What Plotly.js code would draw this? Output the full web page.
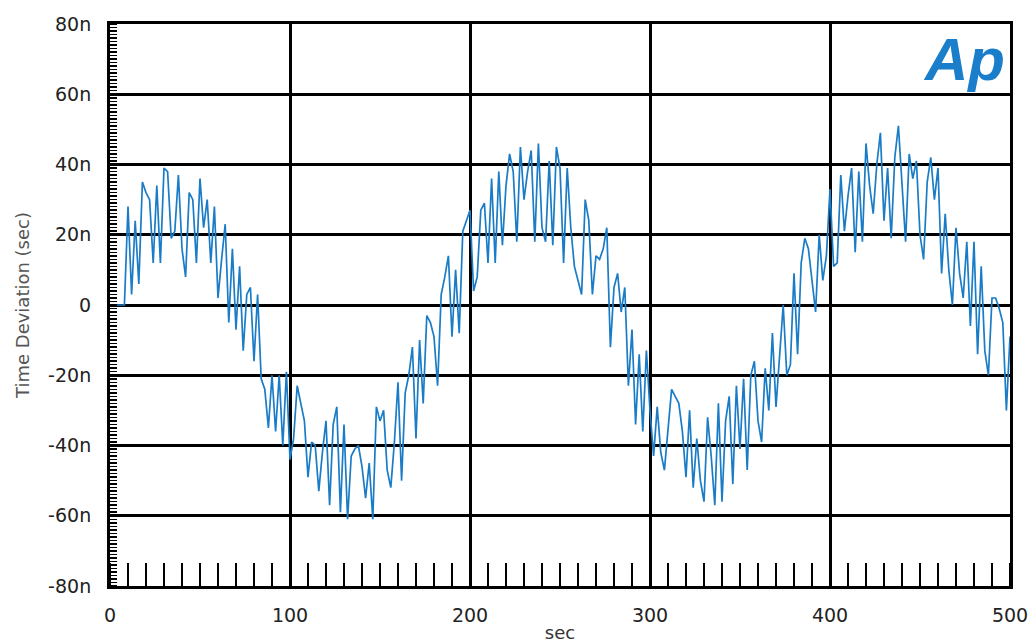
<!DOCTYPE html>
<html><head><meta charset="utf-8">
<script src="https://cdn.plot.ly/plotly-3.0.1.min.js"></script>
<style>html,body{margin:0;padding:0;background:#fff}#chart{width:1035px;height:643px}</style>
</head><body><div id="chart"></div>
<script>
// time step (sec) between samples
const timeStep = 2;
// Time deviation in nanoseconds, one value every 2 s from t = 0 to 500 s
const dev0 = [0,0,0,0,0,28,3,24,6,35,32,30,12,34,12,39,38,19,21,37,16,8,32,30,12,36,22,30,12,28,2,13,23,-5,16,-7,11,-13,3,5,-16,3,-21,-24,-35,-20,-36,-20,-40,-19];
const dev1 = [-44,-38,-23,-28,-33,-49,-39,-40,-53,-42,-33,-57,-34,-29,-59,-34,-61,-43,-41,-40,-46,-55,-45,-61,-29,-33,-30,-47,-52,-39,-22,-50,-25,-20,-12,-38,-10,-28,-3,-5,-9,-23,3,8,14,-9,10,-8,21,24];
const dev2 = [27,4,8,27,29,12,36,12,38,17,34,43,38,18,45,30,38,44,18,46,22,18,41,17,45,39,12,39,22,11,7,3,30,24,3,14,13,16,22,-12,5,9,-2,5,-23,-7,-34,-14,-36,-13];
const dev3 = [-30,-43,-29,-42,-47,-35,-24,-26,-28,-36,-49,-30,-52,-38,-50,-56,-32,-43,-57,-28,-56,-33,-26,-51,-23,-41,-21,-47,-20,-16,-33,-39,-18,-30,-8,-29,-14,0,-20,-17,9,-14,12,19,16,6,-2,20,7,14];
const dev4 = [33,11,12,37,21,31,39,15,38,18,46,34,26,40,49,24,39,19,42,51,33,18,43,36,41,20,13,35,42,30,39,9,26,10,0,22,9,2,18,-6,18,-14,11,-13,-20,2,2,-1,-5,-30,-9];
const yTickVals = [-80,-60,-40,-20,0,20,40,60,80];
const yTickText = ['-80n','-60n','-40n','-20n','0','20n','40n','60n','80n'];
const xTickVals = [0,100,200,300,400,500];
const xTickText = ['0','100','200','300','400','500'];

const dev = dev0.concat(dev1, dev2, dev3, dev4);
const t = dev.map((_, i) => i * timeStep);

const font = {family: 'DejaVu Sans, Verdana, sans-serif', size: 19, color: '#222'};

Plotly.newPlot('chart', [{
  x: t, y: dev, type: 'scatter', mode: 'lines',
  line: {color: '#1a7cc6', width: 1.7}, hoverinfo: 'skip'
}], {
  width: 1035, height: 643,
  margin: {l: 110, r: 25, t: 24, b: 57},
  paper_bgcolor: '#fff', plot_bgcolor: '#fff',
  showlegend: false,
  font: font,
  xaxis: {
    range: [0, 500], tickmode: 'array', tickvals: xTickVals, ticktext: xTickText,
    showgrid: true, gridcolor: '#000', gridwidth: 3,
    showline: true, linecolor: '#000', linewidth: 3, mirror: true,
    ticks: '', ticklabelstandoff: 10, zeroline: false,
    tickfont: font,
    minor: {ticks: 'inside', dtick: 10, tick0: 0, ticklen: 23, tickwidth: 2, tickcolor: '#000', showgrid: false},
    title: {text: 'sec', font: {family: font.family, size: 18, color: '#333'}, standoff: 14}
  },
  yaxis: {
    range: [-80, 80], tickmode: 'array', tickvals: yTickVals, ticktext: yTickText,
    showgrid: true, gridcolor: '#000', gridwidth: 3,
    showline: true, linecolor: '#000', linewidth: 3, mirror: true,
    ticks: '', ticklabelstandoff: 12, zeroline: false,
    tickfont: font,
    minor: {ticks: 'inside', dtick: 1, tick0: 0, ticklen: 7, tickwidth: 1.5, tickcolor: '#000', showgrid: false},
    title: {text: 'Time Deviation (sec)', font: {family: font.family, size: 18, color: '#555'}, standoff: 14}
  },
  annotations: [{
    xref: 'paper', yref: 'paper', x: 0.997, y: 1.0, xanchor: 'right', yanchor: 'top',
    text: '<b><i>Ap</i></b>', showarrow: false,
    font: {family: 'Liberation Sans, Arial, sans-serif', size: 60, color: '#1a7ecb'}
  }]
}, {displayModeBar: false, staticPlot: true});
</script></body></html>
